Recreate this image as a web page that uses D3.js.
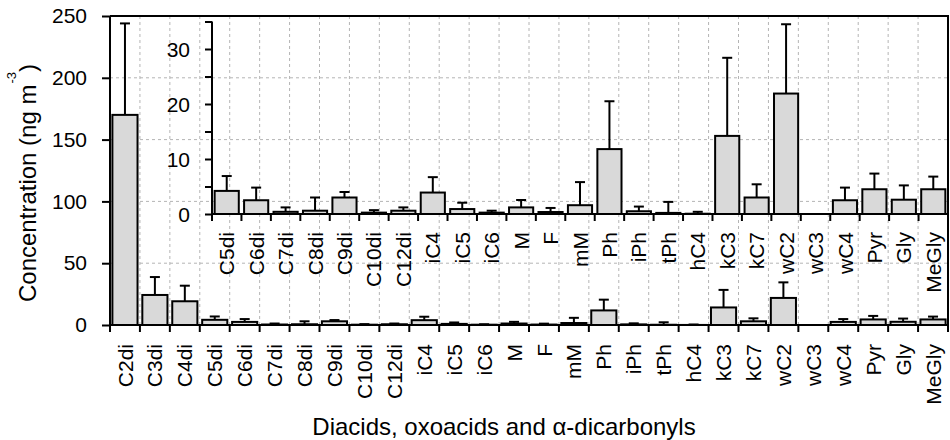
<!DOCTYPE html>
<html>
<head>
<meta charset="utf-8">
<script src="https://cdn.jsdelivr.net/npm/d3@7"></script>
<style>
  html, body { margin: 0; padding: 0; background: #fff; }
  svg { display: block; font-family: "Liberation Sans", Arial, sans-serif; }
</style>
</head>
<body>
<svg id="chart" width="950" height="440"></svg>
<script>
// Mean concentrations (ng m-3) and standard deviations per compound
const categories = ["C2di","C3di","C4di","C5di","C6di","C7di","C8di","C9di","C10di","C12di",
  "iC4","iC5","iC6","M","F","mM","Ph","iPh","tPh","hC4","kC3","kC7","wC2","wC3","wC4","Pyr","Gly","MeGly"];
const means = [170, 24.3, 19.2, 4.2, 2.5, 0.4, 0.6, 3.0, 0.25, 0.6,
  3.9, 0.9, 0.25, 1.2, 0.36, 1.6, 11.8, 0.5, 0.2, 0.05, 14.2, 3.0, 21.9, 0, 2.5, 4.5, 2.6, 4.5];
const sds = [74, 14.5, 12.6, 2.7, 2.3, 0.8, 2.4, 1.0, 0.45, 0.6,
  2.8, 1.15, 0.35, 1.35, 0.74, 4.2, 8.7, 0.85, 2.0, 0.35, 14.2, 2.4, 12.6, 0, 2.3, 2.85, 2.6, 2.3];

// Main axis ticks and inset (zoomed) axis ticks
const mainTicks = [0, 50, 100, 150, 200, 250];
const insetTickMarks = [0, 5, 10, 15, 20, 25, 30, 35];
const insetTickLabels = [0, 10, 20, 30];
const insetFirst = "C5di";

const rows = categories.map((c, i) => ({ name: c, mean: means[i], sd: sds[i] }));
const insetRows = rows.slice(categories.indexOf(insetFirst));

const svg = d3.select("#chart");
const FONT = 21;

// ---------- main panel ----------
const M = { left: 110, right: 948, top: 16, bottom: 325 };
const x = d3.scaleBand().domain(categories).range([M.left, M.right]).padding(0);
const y = d3.scaleLinear().domain([0, 250]).range([M.bottom, M.top]);

const grid = svg.append("g").attr("stroke", "#b4b4b4").attr("stroke-width", 1)
  .attr("stroke-dasharray", "3,3").attr("fill", "none");
mainTicks.filter(t => t > 0 && t < 250).forEach(t => {
  grid.append("line").attr("x1", M.left).attr("x2", M.right).attr("y1", y(t)).attr("y2", y(t));
});
categories.slice(1).forEach(c => {
  grid.append("line").attr("x1", x(c)).attr("x2", x(c)).attr("y1", M.top).attr("y2", M.bottom);
});

function drawBars(g, data, xs, ys, barFrac) {
  const bw = xs.bandwidth() * barFrac;
  const off = (xs.bandwidth() - bw) / 2;
  const cap = 5;
  g.selectAll("rect.bar").data(data).join("rect")
    .attr("class", "bar")
    .attr("x", d => xs(d.name) + off)
    .attr("width", bw)
    .attr("y", d => ys(d.mean))
    .attr("height", d => ys(0) - ys(d.mean))
    .attr("fill", "#d9d9d9").attr("stroke", "#000").attr("stroke-width", 2);
  const eb = g.selectAll("g.err").data(data.filter(d => d.sd > 0)).join("g").attr("class", "err")
    .attr("stroke", "#000").attr("stroke-width", 2);
  eb.append("line")
    .attr("x1", d => xs(d.name) + xs.bandwidth() / 2).attr("x2", d => xs(d.name) + xs.bandwidth() / 2)
    .attr("y1", d => ys(d.mean)).attr("y2", d => ys(d.mean + d.sd));
  eb.append("line")
    .attr("x1", d => xs(d.name) + xs.bandwidth() / 2 - cap).attr("x2", d => xs(d.name) + xs.bandwidth() / 2 + cap)
    .attr("y1", d => ys(d.mean + d.sd)).attr("y2", d => ys(d.mean + d.sd));
}

drawBars(svg.append("g"), rows, x, y, 0.84);

// main frame: top and right border
svg.append("path")
  .attr("d", `M${M.left},${M.top}H${M.right}V${M.bottom}`)
  .attr("fill", "none").attr("stroke", "#000").attr("stroke-width", 2);

// main y axis
const yAxis = svg.append("g").attr("transform", `translate(${M.left},0)`)
  .call(d3.axisLeft(y).tickValues(mainTicks).tickSize(8).tickPadding(15).tickFormat(d3.format("d")));
yAxis.select(".domain").attr("stroke-width", 2).attr("d", `M0,${M.bottom}V${M.top}`);
yAxis.selectAll(".tick line").attr("stroke-width", 2);
yAxis.selectAll("text").attr("font-size", FONT).attr("fill", "#000");

// main x axis: ticks at category boundaries
const bounds = categories.map(c => x(c)).concat([M.right]);
const xAxis = svg.append("g").attr("transform", `translate(0,${M.bottom})`);
xAxis.append("line").attr("x1", M.left).attr("x2", M.right).attr("stroke", "#000").attr("stroke-width", 2);
xAxis.selectAll("line.tk").data(bounds).join("line").attr("class", "tk")
  .attr("x1", d => d).attr("x2", d => d).attr("y1", 0).attr("y2", 7)
  .attr("stroke", "#000").attr("stroke-width", 2);
xAxis.selectAll("text").data(categories).join("text")
  .attr("transform", d => `translate(${x(d) + x.bandwidth() / 2},19) rotate(-90)`)
  .attr("text-anchor", "end").attr("dy", "0.36em")
  .attr("font-size", FONT).text(d => d);

// ---------- inset panel ----------
const I = { left: 212, right: 948, top: 21.5, bottom: 214 };
const xi = d3.scaleBand().domain(insetRows.map(d => d.name)).range([I.left, I.right]).padding(0);
const yi = d3.scaleLinear().domain([0, 35]).range([I.bottom, I.top]);

drawBars(svg.append("g"), insetRows, xi, yi, 0.82);

const yiAxis = svg.append("g").attr("transform", `translate(${I.left},0)`)
  .call(d3.axisLeft(yi).tickValues(insetTickMarks).tickSize(7).tickFormat(""));
yiAxis.select(".domain").attr("stroke-width", 2).attr("d", `M0,${I.bottom}V${I.top}`);
yiAxis.selectAll(".tick line").attr("stroke-width", 2);
svg.append("g").selectAll("text").data(insetTickLabels).join("text")
  .attr("x", I.left - 22).attr("y", d => yi(d)).attr("dy", "0.36em")
  .attr("text-anchor", "end").attr("font-size", FONT).text(d => d);

const ibounds = insetRows.map(d => xi(d.name)).concat([I.right]);
const xiAxis = svg.append("g").attr("transform", `translate(0,${I.bottom})`);
xiAxis.append("line").attr("x1", I.left).attr("x2", I.right).attr("stroke", "#000").attr("stroke-width", 2);
xiAxis.selectAll("line.tk").data(ibounds).join("line").attr("class", "tk")
  .attr("x1", d => d).attr("x2", d => d).attr("y1", 0).attr("y2", 7)
  .attr("stroke", "#000").attr("stroke-width", 2);
xiAxis.selectAll("text").data(insetRows).join("text")
  .attr("transform", d => `translate(${xi(d.name) + xi.bandwidth() / 2},18) rotate(-90)`)
  .attr("text-anchor", "end").attr("dy", "0.36em")
  .attr("font-size", FONT).text(d => d.name);

// ---------- axis titles ----------
const yt = svg.append("text")
  .attr("transform", "translate(36,302) rotate(-90)")
  .attr("text-anchor", "start").attr("font-size", 24);
yt.append("tspan").text("Concentration (ng m");
yt.append("tspan").attr("font-size", 13).attr("dy", -20).attr("dx", 1).text("-3");
yt.append("tspan").attr("dy", 20).attr("dx", 0).text(")");

svg.append("text")
  .attr("x", 504).attr("y", 435).attr("text-anchor", "middle").attr("font-size", 24)
  .text("Diacids, oxoacids and α-dicarbonyls");
</script>
</body>
</html>
